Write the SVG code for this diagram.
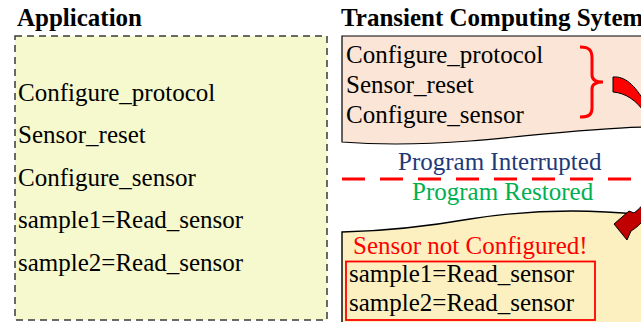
<svg xmlns="http://www.w3.org/2000/svg" width="641" height="322" viewBox="0 0 641 322">
  <style>
    .title { font-family: "Liberation Serif", "Times New Roman", serif; font-weight: bold; font-size: 25px; fill: #000; }
    .code { font-family: "Liberation Serif", "Times New Roman", serif; font-size: 25px; fill: #000; }
    .note { font-family: "Liberation Serif", "Times New Roman", serif; font-size: 25px; }
  </style>

  <rect x="0" y="0" width="641" height="322" fill="#ffffff"/>

  <!-- Application listing -->
  <g id="application">
    <text class="title" x="17" y="26">Application</text>
    <rect x="15" y="36" width="312" height="284" fill="#F5F9CD" stroke="#3a3a3a" stroke-width="1.5" stroke-dasharray="7 5"/>
    <text class="code" x="18" y="101">Configure_protocol</text>
    <text class="code" x="18" y="143">Sensor_reset</text>
    <text class="code" x="18" y="186">Configure_sensor</text>
    <text class="code" x="18" y="228">sample1=Read_sensor</text>
    <text class="code" x="18" y="271">sample2=Read_sensor</text>
  </g>

  <!-- Transient computing system: executed part -->
  <g id="executed">
    <text class="title" x="341" y="26">Transient Computing Sytem</text>
    <path d="M342,142 L342,36 L645,36 L645,127 C590,128 530,136 470,141 C430,144 380,145 342,142 Z" fill="#FBE5D6" stroke="#000" stroke-width="1.2"/>
    <text class="code" x="346" y="63">Configure_protocol</text>
    <text class="code" x="346" y="93">Sensor_reset</text>
    <text class="code" x="346" y="123">Configure_sensor</text>
    <path d="M580,47 C590,47 592,51 592,58 L592,75 C592,80 596,82 603,82 C596,82 592,84 592,89 L592,108 C592,114 590,117 580,117" fill="none" stroke="#FF0000" stroke-width="3"/>
  </g>

  <!-- Power failure boundary -->
  <g id="interruption">
    <text class="note" x="398" y="170" fill="#1F3A78">Program Interrupted</text>
    <path d="M342,179 L631,179" stroke="#FF0000" stroke-width="3.2" stroke-dasharray="23 15" fill="none"/>
    <text class="note" x="412" y="200" fill="#00B050">Program Restored</text>
  </g>

  <!-- Transient computing system: resumed part -->
  <g id="resumed">
    <path d="M342,325 L342,232 C390,231 430,226 470,219 C520,211 580,208 645,215 L645,325 Z" fill="#FCF0C1" stroke="#000" stroke-width="1.4"/>
    <text class="note" x="353" y="254" fill="#FF0000">Sensor not Configured!</text>
    <rect x="346" y="261.5" width="249" height="58.5" fill="none" stroke="#FF0000" stroke-width="1.8"/>
    <text class="code" x="349" y="282">sample1=Read_sensor</text>
    <text class="code" x="349" y="311">sample2=Read_sensor</text>
  </g>

  <!-- Restart flow arrow -->
  <g id="connectors">
    <path d="M613,77 C625,76 635,85 645,103 L645,113 C637,101 626,93 613,92 Z" fill="#FF0000" stroke="#000" stroke-width="1"/>
    <path d="M645,202 C641,207 638,210 634,213 L629,211 L614,224 L627,240 L631,231 C636,228 641,224 645,218 Z" fill="#C00000" stroke="#000" stroke-width="1"/>
  </g>
</svg>
